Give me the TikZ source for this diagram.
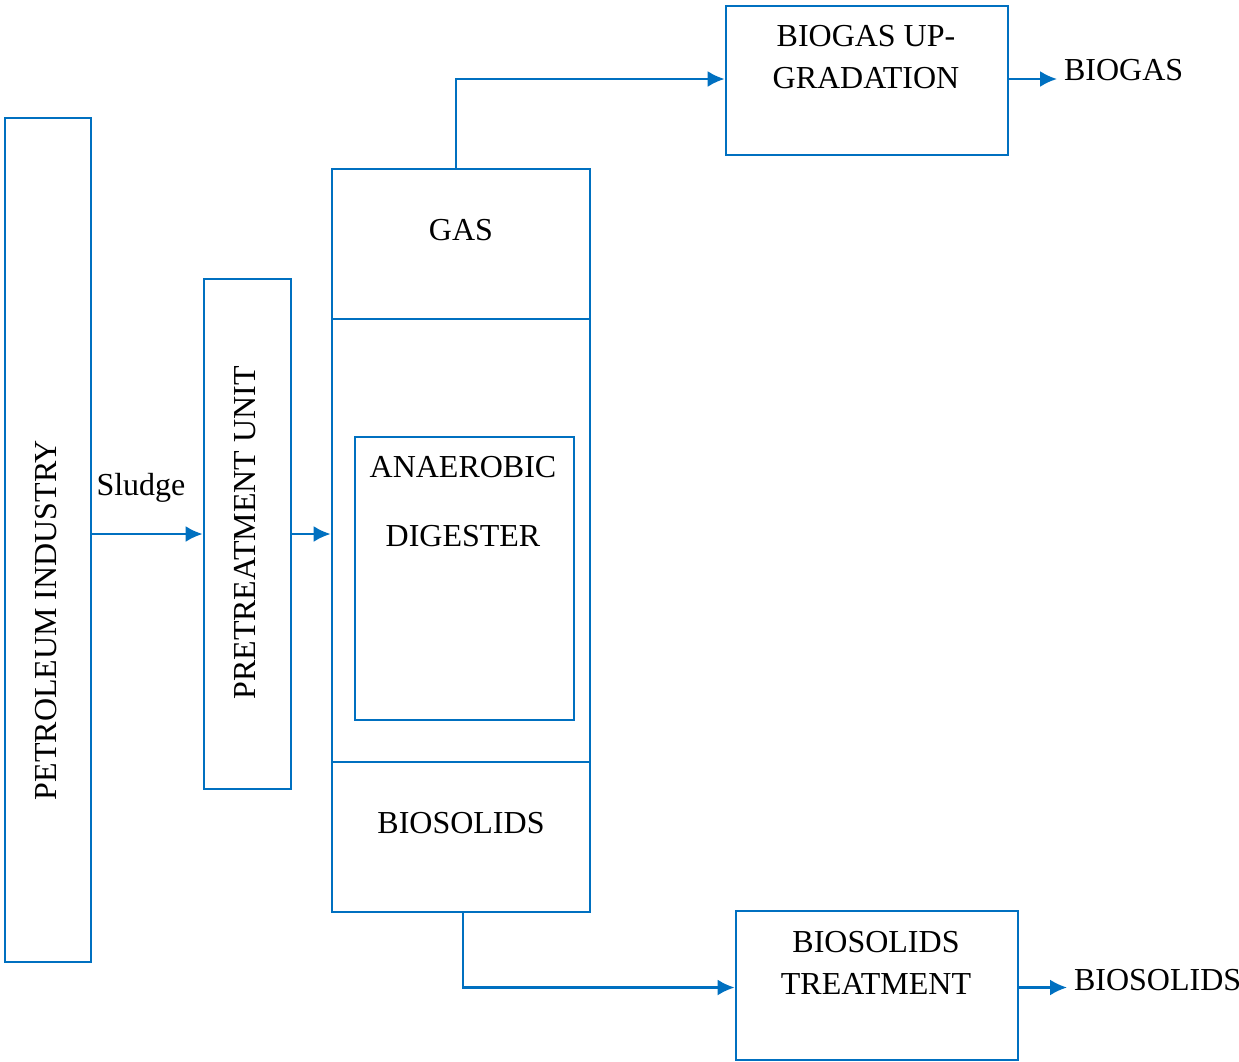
\documentclass[tikz,border=0pt]{standalone}
\usepackage{fontspec}
\setmainfont{Liberation Serif}
\usetikzlibrary{arrows.meta}
\definecolor{flowblue}{RGB}{0,112,192}

\tikzset{
  flow/.style={draw=flowblue,line width=1.2pt,-{Latex[length=8.5pt,width=8pt]}},
}

\begin{document}
\begin{tikzpicture}[x=0.5pt,y=-0.5pt]
        \useasboundingbox (0,0) rectangle (1239,1062);
        \begin{scope}[every node/.style={draw=flowblue,line width=1.4pt,inner sep=0pt}]
            \node[minimum width=43pt,minimum height=422pt] (petrol) at (48,540) {};
            \node[minimum width=43.5pt,minimum height=255pt] (pretreat) at (247.5,534) {};

            \node[minimum width=129pt,minimum height=75pt] (gas) at (461,244) {};
            \node[minimum width=129pt,minimum height=221.5pt] (digest) at (461,540.5) {};
            \node[minimum width=129pt,minimum height=75pt] (solids) at (461,837) {};
            \node[minimum width=109.5pt,minimum height=141.5pt] (anaer) at (464.5,578.5) {};

            \node[minimum width=141pt,minimum height=74.5pt] (upgrade) at (867,80.5) {};
            \node[minimum width=141pt,minimum height=74.5pt] (treat) at (877,985.5) {};
        \end{scope}
        \begin{scope}[every node/.style={font=\fontsize{16}{21}\selectfont,align=center}]
            \node[rotate=90] (petroltext) at (46,620) {PETROLEUM INDUSTRY};
            \node[rotate=90] (pretreattext) at (245,533) {PRETREATMENT UNIT};
            \node (sludge) at (141,488) {Sludge};

            \node (gastext) at (461,230) {GAS};
            \node (anaertext) at (463,467) {ANAEROBIC};
            \node (digesttext) at (463,536) {DIGESTER};
            \node (solidstext) at (461,823) {BIOSOLIDS};

            \node (upgradetext) at (866,57) {BIOGAS UP-\\GRADATION};
            \node (treattext) at (876,963) {BIOSOLIDS\\TREATMENT};

            \node[anchor=west] (biogas) at (1057,70) {BIOGAS};
            \node[anchor=west] (biosol) at (1067,980) {BIOSOLIDS};
        \end{scope}
        \begin{scope}
            \draw[flow] (petrol.east |- pretreat) -- (pretreat.west);
            \draw[flow] (pretreat.east) -- (pretreat.east -| digest.west);
            \draw[flow] ([xshift=-2.5pt]gas.north) |- ([yshift=0.75pt]upgrade.west);
            \draw[flow] ([xshift=1pt]solids.south) |- ([yshift=-1pt]treat.west);
            \draw[flow] ([yshift=0.75pt]upgrade.east) -- ([yshift=0.75pt]upgrade.east -| biogas.west);
            \draw[flow] ([yshift=-1pt]treat.east) -- ([yshift=-1pt]treat.east -| biosol.west);
        \end{scope}
\end{tikzpicture}
\end{document}
